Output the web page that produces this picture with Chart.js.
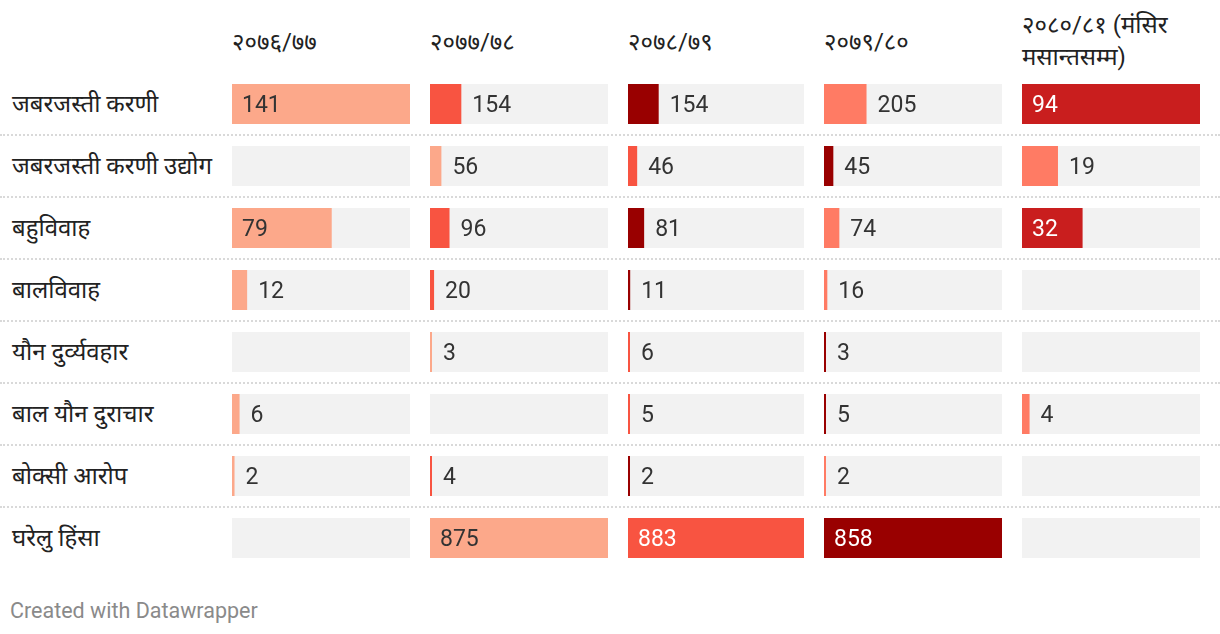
<!DOCTYPE html>
<html>
<head>
<meta charset="utf-8">
<script src="https://cdn.jsdelivr.net/npm/chart.js@4.4.1/dist/chart.umd.min.js"></script>
<style>
html, body { margin: 0; padding: 0; background: #fff; }
#wrap { position: relative; width: 1220px; height: 634px; overflow: hidden; font-family: Roboto, "Noto Sans Devanagari", "Lohit Devanagari", FreeSans, "Noto Sans", sans-serif; color: #222; }
.head { position: absolute; font-size: 24px; line-height: 32px; white-space: pre-line; }
.rowlab { position: absolute; left: 12px; font-size: 24px; line-height: 30px; white-space: nowrap; }
.sep { position: absolute; left: 0; width: 1220px; height: 0; border-top: 2px dotted #d9d9d9; }
.col { position: absolute; top: 73px; height: 496px; }
#foot { position: absolute; left: 10px; top: 598px; font-size: 21.5px; line-height: 26px; color: #8a8a8a; }
</style>
</head>
<body>
<div id="wrap">
  <div id="foot">Created with Datawrapper</div>
</div>
<script>
// पङ्क्ति (अपराधका प्रकार)
const rows = ["जबरजस्ती करणी", "जबरजस्ती करणी उद्योग", "बहुविवाह", "बालविवाह", "यौन दुर्व्यवहार", "बाल यौन दुराचार", "बोक्सी आरोप", "घरेलु हिंसा"];
// आर्थिक वर्ष
const years = ["२०७६/७७", "२०७७/७८", "२०७८/७९", "२०७९/८०", "२०८०/८१ (मंसिर\nमसान्तसम्म)"];

const y2076 = [141, null, 79, 12, null, 6, 2, null];
const y2077 = [154, 56, 96, 20, 3, null, 4, 875];
const y2078 = [154, 46, 81, 11, 6, 5, 2, 883];
const y2079 = [205, 45, 74, 16, 3, 5, 2, 858];
const y2080 = [94, 19, 32, null, null, 4, null, null];

const series = [y2076, y2077, y2078, y2079, y2080];

// colours (styling only)
const S = '#fca88a', R = '#f85441', D = '#990000', C = '#ff7b64', K = '#c91e1e';
const barColors = [
    [S, S, S, S, S, S, S, S],
    [R, S, R, R, S, R, R, S],
    [D, R, D, D, R, R, D, R],
    [C, D, C, C, D, D, C, D],
    [K, C, K, K, K, C, K, K]
];
const darkBars = [R, D, K];

// layout
const colLeft = [232, 430, 628, 824, 1022];
const colWidth = [178, 178, 176, 178, 178];
const rowTop = 73;
const rowStep = 62;

const wrap = document.getElementById("wrap");

years.forEach((y, i) => {
    const d = document.createElement("div");
    d.className = "head";
    d.textContent = y;
    d.style.left = colLeft[i] + "px";
    d.style.top = (y.indexOf("\n") >= 0 ? 9 : 26) + "px";
    wrap.appendChild(d);
});

rows.forEach((r, i) => {
    const d = document.createElement("div");
    d.className = "rowlab";
    d.textContent = r;
    d.style.top = (rowTop + i * rowStep + rowStep / 2 - 15) + "px";
    wrap.appendChild(d);
    if (i > 0) {
        const s = document.createElement("div");
        s.className = "sep";
        s.style.top = (rowTop + i * rowStep - 1) + "px";
        wrap.appendChild(s);
    }
});

const valueLabels = {
    id: 'valueLabels',
    afterDatasetsDraw(chart) {
        const ctx = chart.ctx;
        const meta = chart.getDatasetMeta(0);
        const ds = chart.data.datasets[0];
        ctx.save();
        ctx.font = '23px Roboto';
        ctx.textBaseline = 'middle';
        ctx.textAlign = 'left';
        meta.data.forEach((bar, i) => {
            const v = ds.data[i];
            if (v == null) return;
            const txt = String(v);
            const w = ctx.measureText(txt).width;
            const len = bar.x - bar.base;
            if (len > w + 20) {
                ctx.fillStyle = darkBars.includes(ds.backgroundColor[i]) ? '#fff' : '#333';
                ctx.fillText(txt, bar.base + 10, bar.y + 2);
            } else {
                ctx.fillStyle = '#333';
                ctx.fillText(txt, bar.x + 11, bar.y + 2);
            }
        });
        ctx.restore();
    }
};

series.forEach((vals, c) => {
    const box = document.createElement("div");
    box.className = "col";
    box.style.left = colLeft[c] + "px";
    box.style.width = colWidth[c] + "px";
    const cv = document.createElement("canvas");
    box.appendChild(cv);
    wrap.appendChild(box);

    const max = Math.max(...vals.filter(v => v != null));

    new Chart(cv, {
        type: 'bar',
        data: {
            labels: rows,
            datasets: [{
                data: vals,
                backgroundColor: barColors[c],
                minBarLength: 2,
                grouped: false,
                order: 0
            }, {
                data: rows.map(() => max),
                backgroundColor: '#f2f2f2',
                grouped: false,
                order: 1
            }]
        },
        options: {
            indexAxis: 'y',
            responsive: true,
            maintainAspectRatio: false,
            animation: false,
            datasets: { bar: { barPercentage: 40 / 62, categoryPercentage: 1 } },
            layout: { padding: 0 },
            plugins: { legend: { display: false }, tooltip: { enabled: false } },
            scales: {
                x: { display: false, min: 0, max: max },
                y: { display: false }
            }
        },
        plugins: [valueLabels]
    });
});
</script>
</body>
</html>
